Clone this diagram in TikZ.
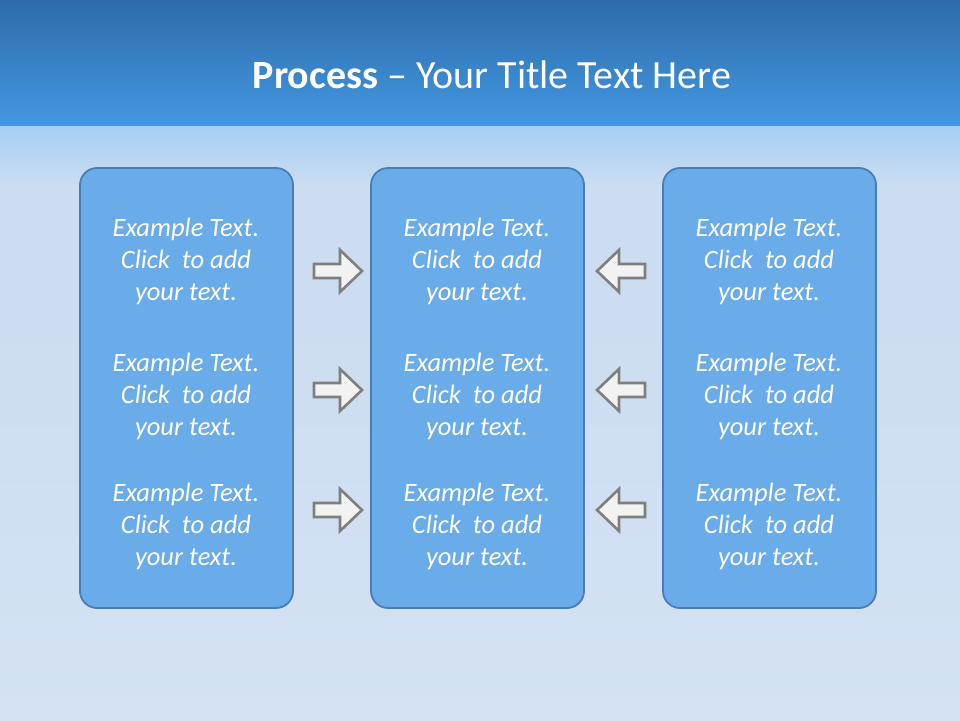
\documentclass[tikz,border=0pt]{standalone}
\usepackage{fontspec}
\setmainfont{Carlito}
\usetikzlibrary{calc}

\definecolor{bandtop}{HTML}{2E6CA9}
\definecolor{bandbot}{HTML}{4397E2}
\definecolor{glow}{HTML}{A4CEF4}
\definecolor{wall}{HTML}{CCDDF1}
\definecolor{wallbot}{HTML}{D4E2F3}
\definecolor{boxfill}{HTML}{6AABEA}
\definecolor{boxline}{HTML}{4A7DB4}
\definecolor{arrowfill}{HTML}{F2F2F2}
\definecolor{arrowline}{HTML}{7F7F7F}

\newcommand\boxtext{Example Text.\\Click~ to add\\your text.}

\tikzset{
  column/.style={draw=boxline, line width=1.8pt, fill=boxfill, rounded corners=17pt},
  itemtext/.style={text=white, align=center, inner sep=0pt, font=\fontsize{26.5}{32}\selectfont\itshape},
  arrowbody/.style={draw=arrowline, line width=2.6pt, fill=arrowfill, line join=miter},
  pics/blockarrow/.style={code={
    \draw[arrowbody] (-24,-7) -- (2,-7) -- (2,-21) -- (24,0) -- (2,21) -- (2,7) -- (-24,7) -- cycle;
  }}
}

\begin{document}
\begin{tikzpicture}[x=1pt, y=-1pt]
\useasboundingbox (0,0) rectangle (960,720);

% background
\fill[wall] (0,0) rectangle (960,720);
\shade[top color=wall, bottom color=wallbot] (0,300) rectangle (960,720);
\shade[top color=glow, bottom color=wall] (0,125) rectangle (960,185);
\shade[top color=bandtop, bottom color=bandbot] (0,0) rectangle (960,125);

\node (title) at (492,75) [text=white, font=\fontsize{40}{46}\selectfont]
  {\textbf{Process} -- Your Title Text Here};

% columns
\draw[column] (80,168) rectangle (293,608);
\draw[column] (371,168) rectangle (584,608);
\draw[column] (663,168) rectangle (876,608);

% texts
\node[itemtext] (l1) at (186,261) {\boxtext};
\node[itemtext] (l2) at (186,396) {\boxtext};
\node[itemtext] (l3) at (186,526) {\boxtext};
\node[itemtext] (m1) at (477,261) {\boxtext};
\node[itemtext] (m2) at (477,396) {\boxtext};
\node[itemtext] (m3) at (477,526) {\boxtext};
\node[itemtext] (r1) at (769,261) {\boxtext};
\node[itemtext] (r2) at (769,396) {\boxtext};
\node[itemtext] (r3) at (769,526) {\boxtext};

% arrows
\pic at (338,271) {blockarrow};
\pic at (338,390) {blockarrow};
\pic at (338,510) {blockarrow};
\pic[rotate=180] at (621,271) {blockarrow};
\pic[rotate=180] at (621,390) {blockarrow};
\pic[rotate=180] at (621,510) {blockarrow};
\end{tikzpicture}
\end{document}
